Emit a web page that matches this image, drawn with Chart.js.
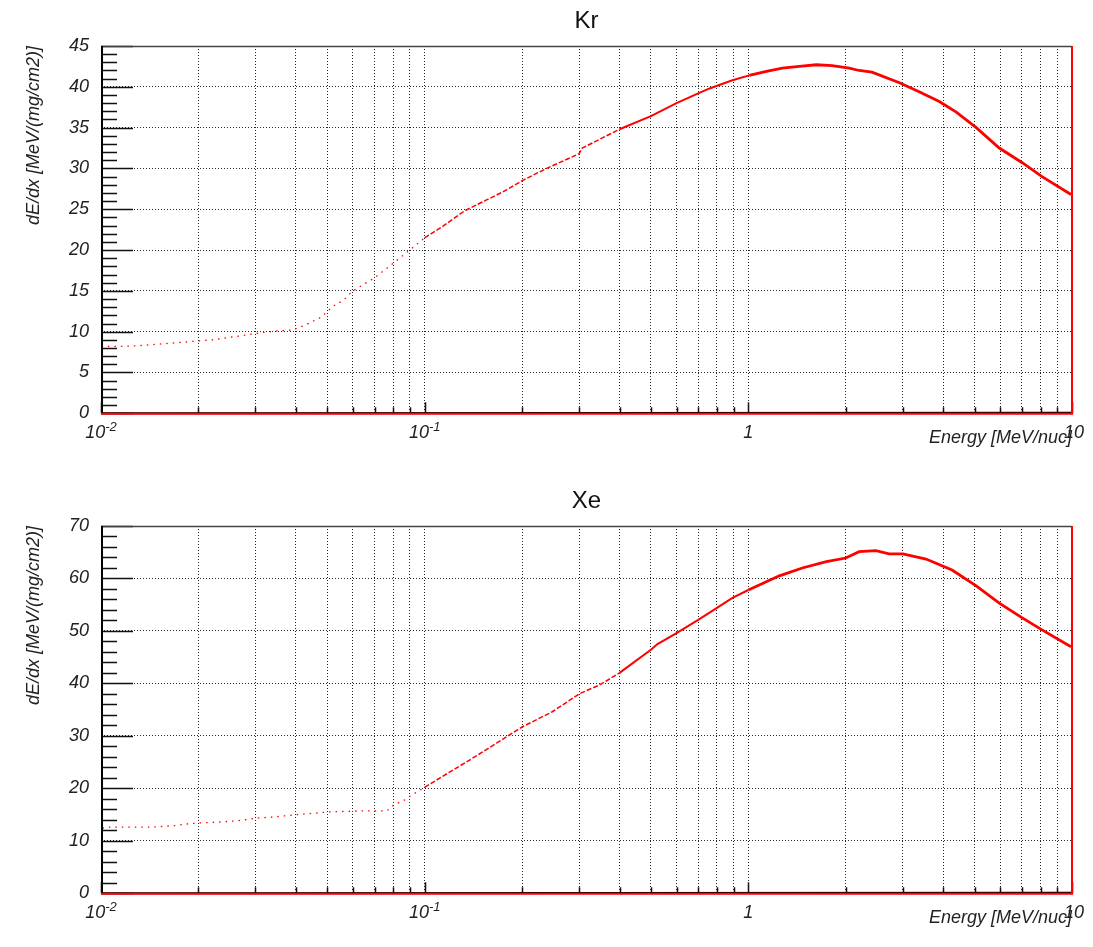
<!DOCTYPE html>
<html>
<head>
<meta charset="utf-8">
<script src="https://cdn.jsdelivr.net/npm/chart.js@4.4.0/dist/chart.umd.min.js"></script>
<style>
  body { margin: 0; background: #fff; }
  .pad { position: absolute; left: 0; width: 1093px; }
</style>
</head>
<body>
<div class="pad" style="top:0;height:480px"><canvas id="kr_chart"></canvas></div>
<div class="pad" style="top:480px;height:467px"><canvas id="xe_chart"></canvas></div>
<script>
// stopping power tables: energy in MeV/nuc, dE/dx in MeV/(mg/cm2)
var krEnergy = [0.0105, 0.0117, 0.0132, 0.0154, 0.0191, 0.0220, 0.0245, 0.0282, 0.0316, 0.0349, 0.0392,
  0.0432, 0.0475, 0.0502, 0.052, 0.0559, 0.06, 0.07, 0.08, 0.09, 0.1, 0.1137, 0.1327, 0.151, 0.174,
  0.2, 0.238, 0.3, 0.307, 0.4, 0.5, 0.6, 0.7, 0.759, 0.797, 0.893, 1.007, 1.137, 1.274, 1.437, 1.622,
  1.816, 2.05, 2.20, 2.41, 2.93, 3.37, 3.89, 4.39, 5.06, 5.96, 7.02, 8.08, 9.93]
var krDedx = [8.2, 8.2, 8.3, 8.5, 8.8, 9.0, 9.25, 9.6, 9.9, 10.1, 10.2,
  10.9, 11.7, 12.5, 13.1, 13.8, 15.0, 16.6, 18.4, 20.0, 21.5, 22.9, 24.8, 25.9, 27.1,
  28.5, 30.0, 31.8, 32.5, 34.8, 36.4, 38.0, 39.2, 39.8, 40.1, 40.8, 41.4, 41.9, 42.3, 42.5, 42.7,
  42.6, 42.3, 42.0, 41.8, 40.5, 39.4, 38.2, 36.9, 35.0, 32.5, 30.7, 29.0, 26.8]

var xeEnergy = [0.0101, 0.0106, 0.01426, 0.0169, 0.0183, 0.02, 0.0234, 0.0263, 0.03, 0.0349, 0.042,
  0.0464, 0.05, 0.063, 0.0762, 0.0795, 0.08, 0.0882, 0.09, 0.1, 0.1194, 0.1377, 0.1667, 0.2, 0.248,
  0.3, 0.347, 0.4, 0.5, 0.524, 0.6, 0.7, 0.8, 0.893, 1.0, 1.247, 1.468, 1.742, 2.0, 2.20, 2.48,
  2.72, 3.0, 3.54, 4.26, 5.06, 5.96, 7.02, 8.08, 9.93]
var xeDedx = [12.4, 12.6, 12.6, 12.9, 13.2, 13.4, 13.6, 13.8, 14.3, 14.6, 15.1,
  15.3, 15.5, 15.7, 15.7, 16.5, 16.8, 18.0, 18.5, 20.2, 23.1, 25.4, 28.6, 31.7, 34.6,
  38.0, 39.7, 42.0, 46.4, 47.5, 49.6, 52.1, 54.4, 56.3, 57.8, 60.5, 62.0, 63.2, 63.9, 65.1, 65.3,
  64.7, 64.7, 63.7, 61.6, 58.6, 55.3, 52.5, 50.2, 47.0]

// axis ticks
var energyTicks = [0.01, 0.02, 0.03, 0.04, 0.05, 0.06, 0.07, 0.08, 0.09,
  0.1, 0.2, 0.3, 0.4, 0.5, 0.6, 0.7, 0.8, 0.9,
  1, 2, 3, 4, 5, 6, 7, 8, 9, 10]
var energyLabelValues = [0.01, 0.1, 1, 10]
var energyLabelBase = ['10', '10', '1', '10']
var energyLabelExp = ['-2', '-1', '', '']
var krTicks = [0, 5, 10, 15, 20, 25, 30, 35, 40, 45]
var xeTicks = [0, 10, 20, 30, 40, 50, 60, 70]

var labelFont = 'italic 18px "Liberation Sans", Arial, sans-serif'
var expFont = 'italic 13px "Liberation Sans", Arial, sans-serif'

// ROOT-like frame: ticks inside, red baseline, titles
var rootFrame = {
  id: 'rootFrame',
  afterDraw: function (chart, args, opts) {
    var ctx = chart.ctx
    var a = chart.chartArea
    var xs = chart.scales.x
    var ys = chart.scales.y
    ctx.save()

    ctx.strokeStyle = '#111'
    ctx.lineWidth = 1.5
    ctx.beginPath()
    for (var v = 0; v <= ys.max + 1e-9; v += opts.minorStep) {
      var py = Math.round(ys.getPixelForValue(v)) + 0.5
      var major = Math.abs(v / opts.majorStep - Math.round(v / opts.majorStep)) < 1e-6
      ctx.moveTo(a.left, py)
      ctx.lineTo(a.left + (major ? 32 : 16), py)
    }
    xs.ticks.forEach(function (t) {
      var px = Math.round(xs.getPixelForValue(t.value)) + 0.5
      var lg = Math.log10(t.value)
      var major = Math.abs(lg - Math.round(lg)) < 1e-6
      ctx.moveTo(px, a.bottom)
      ctx.lineTo(px, a.bottom - (major ? 11 : 6))
    })
    ctx.stroke()

    // frame
    ctx.lineWidth = 1.5
    ctx.strokeStyle = '#444'
    ctx.beginPath()
    ctx.moveTo(a.left, a.top + 0.5)
    ctx.lineTo(a.right, a.top + 0.5)
    ctx.stroke()
    ctx.strokeStyle = '#000'
    ctx.lineWidth = 2
    ctx.beginPath()
    ctx.moveTo(a.left + 1, a.top)
    ctx.lineTo(a.left + 1, a.bottom)
    ctx.lineTo(a.right, a.bottom - 0.5)
    ctx.stroke()
    ctx.strokeStyle = '#ff0000'
    ctx.lineWidth = 2
    ctx.beginPath()
    ctx.moveTo(a.left, a.bottom + 0.5)
    ctx.lineTo(a.right, a.bottom + 0.5)
    ctx.lineTo(a.right, a.top)
    ctx.stroke()

    // energy labels with exponents
    ctx.fillStyle = '#222'
    ctx.textBaseline = 'alphabetic'
    energyLabelValues.forEach(function (val, i) {
      var px = xs.getPixelForValue(val)
      var base = energyLabelBase[i]
      var exp = energyLabelExp[i]
      ctx.font = labelFont
      var wb = ctx.measureText(base).width
      ctx.font = expFont
      var we = exp ? ctx.measureText(exp).width : 0
      var x0 = px - (wb + we) / 2
      if (!exp && val === 10) x0 = px - wb / 2 + 2
      ctx.font = labelFont
      ctx.textAlign = 'left'
      ctx.fillText(base, x0, a.bottom + 25)
      if (exp) {
        ctx.font = expFont
        ctx.fillText(exp, x0 + wb, a.bottom + 18)
      }
    })

    // axis titles
    ctx.font = labelFont
    ctx.textAlign = 'right'
    ctx.fillText('Energy [MeV/nuc]', a.right, a.bottom + 30)
    ctx.save()
    ctx.translate(39, a.top)
    ctx.rotate(-Math.PI / 2)
    ctx.fillText('dE/dx [MeV/(mg/cm2)]', 0, 0)
    ctx.restore()

    // histogram title
    ctx.font = '24px "Liberation Sans", Arial, sans-serif'
    ctx.textAlign = 'center'
    ctx.fillStyle = '#111'
    ctx.fillText(opts.title, (a.left + a.right) / 2, 28)
    ctx.restore()
  }
}

function makeChart(id, energy, dedx, yTicks, majorStep, minorStep, title, xAxisHeight) {
  var points = energy.map(function (e, i) { return { x: e, y: dedx[i] } })
  return new Chart(document.getElementById(id).getContext('2d'), {
    type: 'line',
    data: {
      datasets: [{
        data: points,
        borderColor: '#ff0000',
        borderWidth: 2,
        pointRadius: 0,
        tension: 0,
        segment: {
          borderDash: function (ctx) {
            var e = ctx.p0.parsed.x
            return e < 0.1 ? [1.5, 5] : (e < 0.4 ? [5, 2] : [])
          },
          borderWidth: function (ctx) {
            var e = ctx.p0.parsed.x
            return e < 0.1 ? 1.3 : (e < 0.4 ? 1.5 : (e < 1 ? 2 : 2.8))
          }
        }
      }]
    },
    plugins: [rootFrame],
    options: {
      responsive: true,
      maintainAspectRatio: false,
      animation: false,
      layout: { padding: { top: 46, right: 21, left: 0, bottom: 0 } },
      plugins: {
        legend: { display: false },
        tooltip: { enabled: false },
        rootFrame: { title: title, majorStep: majorStep, minorStep: minorStep }
      },
      scales: {
        x: {
          type: 'logarithmic',
          min: 0.01,
          max: 10,
          afterBuildTicks: function (s) { s.ticks = energyTicks.map(function (v) { return { value: v } }) },
          afterFit: function (s) { s.height = xAxisHeight },
          ticks: { display: false },
          grid: { color: 'rgba(0,0,0,0.85)', lineWidth: 1, drawTicks: false },
          border: { display: false, dash: [1, 2] }
        },
        y: {
          min: yTicks[0],
          max: yTicks[yTicks.length - 1],
          afterBuildTicks: function (s) { s.ticks = yTicks.map(function (v) { return { value: v } }) },
          afterFit: function (s) { s.width = 101 },
          ticks: {
            padding: 12,
            color: '#222',
            font: { family: '"Liberation Sans", Arial, sans-serif', size: 18, style: 'italic' }
          },
          grid: { color: 'rgba(0,0,0,0.85)', lineWidth: 1, drawTicks: false },
          border: { display: false, dash: [1, 2] }
        }
      }
    }
  })
}

var kr_chart = makeChart('kr_chart', krEnergy, krDedx, krTicks, 5, 1, 'Kr', 66.7)
var xe_chart = makeChart('xe_chart', xeEnergy, xeDedx, xeTicks, 10, 2, 'Xe', 53.7)
</script>
</body>
</html>
